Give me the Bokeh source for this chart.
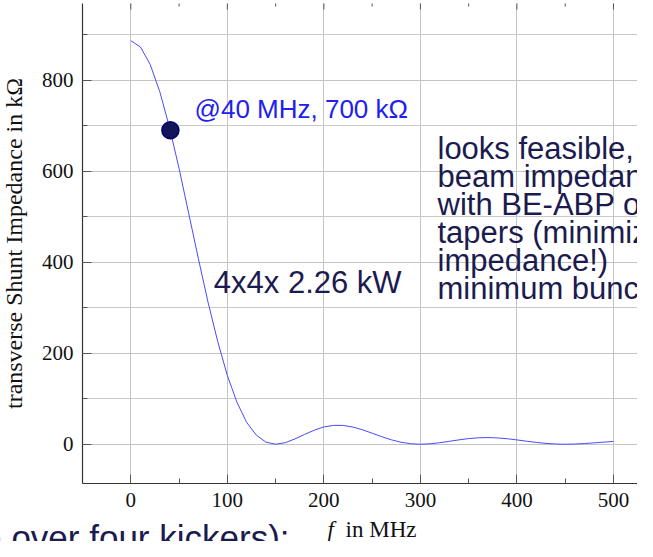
from bokeh.plotting import figure
from bokeh.models import Range1d, FixedTicker, Label, BoxAnnotation
from bokeh.embed import file_html
from bokeh.resources import INLINE

# ---- data ----
freq_mhz = [0, 10, 20, 30, 40, 50, 60, 70, 80, 90,
            100, 110, 120, 130, 140, 150, 160, 170, 180, 190,
            200, 210, 220, 230, 240, 250, 260, 270, 280, 290,
            300, 310, 320, 330, 340, 350, 360, 370, 380, 390,
            400, 410, 420, 430, 440, 450, 460, 470, 480, 490, 500]
shunt_kohm = [887, 873, 835, 775, 697, 606, 507, 408, 312, 226,
              151, 92, 48, 20, 4.5, 0, 3.4, 11.6, 21.5, 30.9,
              37.9, 41.4, 41.3, 37.8, 31.7, 24.2, 16.5, 9.6, 4.3, 1.0,
              0, 0.9, 3.3, 6.4, 9.6, 12.4, 14.1, 14.6, 13.8, 12.0,
              9.5, 6.6, 4.0, 1.8, 0.45, 0, 0.4, 1.5, 3.0, 4.6, 6.1]
marker_f = [41]
marker_v = [690]

x_major = [0, 100, 200, 300, 400, 500]
x_minor = [50, 150, 250, 350, 450]
y_major = [0, 200, 400, 600, 800]
y_minor = [100, 300, 500, 700, 900]

y_label = "transverse Shunt Impedance in kΩ"
point_note = "@40 MHz, 700 kΩ"
power_note = "4x4x 2.26 kW"
side_lines = ["looks feasible,", "beam impedance", "with BE-ABP or",
              "tapers (minimize", "impedance!)", "minimum bunch"]
bottom_note = "e over four kickers):"

NAVY = "#1b1b4f"
INK = "#111111"

# ---- layout (the frame spans the whole canvas; axes are pinned inside) ----
X_LO, X_HI = -135.0, 524.9
Y_LO, Y_HI = -213.8, 975.2
AX_X0 = -50.0     # left end of the axis box
AX_Y0 = -86.4     # bottom of the axis box
AX_Y1 = 968.6     # top of the axis box
PX_PER_Y = 541.0 / (Y_HI - Y_LO)

p = figure(width=637, height=541,
           x_range=Range1d(X_LO, X_HI), y_range=Range1d(Y_LO, Y_HI),
           output_backend="svg", toolbar_location=None, min_border=0)
p.outline_line_color = None
p.background_fill_color = "white"
p.border_fill_color = "white"

for g in (p.xgrid, p.ygrid):
    g.grid_line_color = "#c4c4c4"
    g.grid_line_width = 1
p.xgrid.minor_grid_line_color = None
p.ygrid.minor_grid_line_color = "#c8c8c8"
p.ygrid.minor_grid_line_width = 1

# white-out the grid outside the axis box
for kw in (dict(right=AX_X0), dict(top=AX_Y0), dict(bottom=AX_Y1)):
    p.add_layout(BoxAnnotation(fill_color="white", fill_alpha=1.0,
                               line_color=None, level="underlay", **kw))


def style_axis(ax, maj, mnr):
    ax.ticker = FixedTicker(ticks=maj, minor_ticks=mnr)
    ax.axis_line_color = "#333333"
    ax.axis_line_width = 1.2
    ax.major_tick_in = 9
    ax.major_tick_out = 0
    ax.minor_tick_in = 5
    ax.minor_tick_out = 0
    ax.major_tick_line_color = "#555555"
    ax.minor_tick_line_color = "#555555"
    ax.major_label_text_font = "Liberation Serif"
    ax.major_label_text_font_size = "21px"
    ax.major_label_text_color = INK


xa = p.xaxis[0]
ya = p.yaxis[0]
style_axis(xa, x_major, x_minor)
style_axis(ya, y_major, y_minor)
xa.fixed_location = AX_Y0
xa.bounds = (AX_X0, X_HI)
ya.fixed_location = AX_X0
ya.bounds = (AX_Y0, AX_Y1)
xa.major_label_standoff = 9
ya.major_label_standoff = 9
ya.axis_label = y_label
ya.axis_label_text_font = "Liberation Serif"
ya.axis_label_text_font_size = "24px"
ya.axis_label_text_font_style = "normal"
ya.axis_label_text_color = INK
ya.axis_label_standoff = 12

# short inward ticks along the (unlined) top edge of the axis box
top_major_len = 6 / PX_PER_Y
top_minor_len = 3 / PX_PER_Y
p.segment(x0=x_major, y0=[AX_Y1] * len(x_major), x1=x_major,
          y1=[AX_Y1 - top_major_len] * len(x_major),
          line_color="#555555", line_width=1)
p.segment(x0=x_minor, y0=[AX_Y1] * len(x_minor), x1=x_minor,
          y1=[AX_Y1 - top_minor_len] * len(x_minor),
          line_color="#555555", line_width=1)

p.line(freq_mhz, shunt_kohm, line_color="#4a4aff", line_width=1.0)
p.scatter(marker_f, marker_v, size=17, fill_color="#14145a",
          line_color="#000070", line_width=1.5)


def note(x, y_base, text, size, color, font="Liberation Sans",
         align="left", style="normal", asc=0.905, desc=0.212):
    # place text so that its alphabetic baseline sits at y_base (data units)
    y_mid = y_base + (asc - desc) / 2.0 * size / PX_PER_Y
    p.add_layout(Label(x=x, y=y_mid, text=text, text_font=font,
                       text_font_size=f"{size}px", text_font_style=style,
                       text_color=color, text_baseline="middle",
                       text_align=align))


note(66, 716, point_note, 26, "#2020f0")
note(86, 332, power_note, 31, NAVY)
side_x, side_y0, side_step = 317.7, 626.4, 61.5
for i, line in enumerate(side_lines):
    note(side_x, side_y0 - i * side_step, line, 31, NAVY)

note(203.8, -205, "f", 23, INK, font="Liberation Serif", style="italic",
     asc=0.891, desc=0.216)
note(222.5, -205, "in MHz", 23, INK, font="Liberation Serif",
     asc=0.891, desc=0.216)
note(164.4, -231, bottom_note, 35, NAVY, align="right")

open("out.html", "w").write(file_html(p, INLINE))
